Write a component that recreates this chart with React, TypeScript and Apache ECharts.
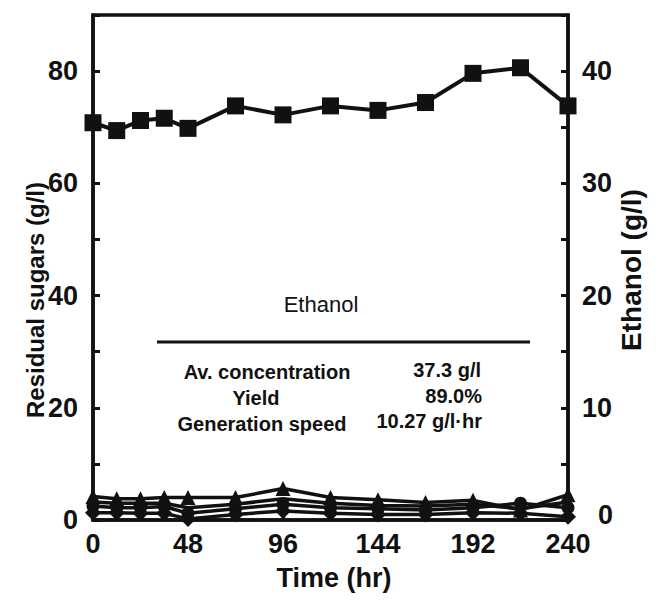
import React, { useEffect, useRef } from "react";
import * as echarts from "echarts";

const hours = [0, 12, 24, 36, 48, 72, 96, 120, 144, 168, 192, 216, 240];
const ethanol = [35.4, 34.7, 35.6, 35.8, 34.9, 36.9, 36.1, 36.9, 36.5, 37.2, 39.8, 40.3, 36.9];
const sugarTriangle = [4.2, 3.8, 3.8, 4.0, 4.0, 4.0, 5.6, 4.0, 3.6, 3.1, 3.5, 1.8, 4.5];
const sugarLineB = [3.2, 3.0, 3.0, 3.0, 2.2, 2.8, 3.8, 3.0, 2.6, 2.5, 2.8, 2.0, 3.2];
const sugarCircle = [2.5, 2.2, 2.2, 2.4, 1.2, 2.0, 2.8, 2.2, 2.0, 1.8, 2.2, 3.0, 2.2];
const sugarDiamond = [1.3, 1.3, 1.2, 1.2, 0.2, 1.0, 1.6, 1.2, 1.0, 1.0, 1.3, 1.2, 0.6];
const xTicks = [0, 48, 96, 144, 192, 240];

const FONT = "'Liberation Sans', Arial, sans-serif";

export default function App() {
  const ref = useRef<HTMLDivElement>(null);
  useEffect(() => {
    if (!ref.current) return;
    const chart = echarts.init(ref.current, null, { renderer: "svg" });
    const pair = (ys: number[]) => hours.map((h, i) => [h, ys[i]]);
    const axisText = { color: "#111", fontSize: 27, fontWeight: "bold" as const, fontFamily: FONT };
    const lineStyle = { color: "#111", width: 3.5 };
    chart.setOption({
      animation: false,
      grid: { left: 93, right: 91, top: 15, bottom: 83, show: true, borderColor: "#111", borderWidth: 3.5, backgroundColor: "transparent" },
      xAxis: {
        type: "value", min: 0, max: 240, interval: 48,
        axisLine: { lineStyle: { color: "#111", width: 3.5 } },
        axisTick: { inside: true, length: 6, lineStyle: { color: "#111", width: 3 } },
        axisLabel: { ...axisText, margin: 10, formatter: (v: number) => (xTicks.includes(v) ? String(v) : "") },
        splitLine: { show: false },
      },
      yAxis: [
        {
          type: "value", min: 0, max: 90, interval: 20, position: "left",
          axisLine: { show: true, lineStyle: { color: "#111", width: 3.5 } },
          axisTick: { inside: true, length: 7, lineStyle: { color: "#111", width: 3 } },
          minorTick: { show: true, splitNumber: 2, length: 7, lineStyle: { color: "#111", width: 3 } },
          axisLabel: { ...axisText, margin: 15, showMaxLabel: false },
          splitLine: { show: false },
        },
        {
          type: "value", min: 0, max: 45, interval: 10, position: "right",
          axisLine: { show: true, lineStyle: { color: "#111", width: 3.5 } },
          axisTick: { inside: true, length: 7, lineStyle: { color: "#111", width: 3 } },
          minorTick: { show: true, splitNumber: 2, length: 7, lineStyle: { color: "#111", width: 3 } },
          axisLabel: {
            ...axisText, margin: 14, showMaxLabel: false,
            formatter: (v: number) => (v === 0 ? "{z|0}" : String(v)),
            rich: { z: { ...axisText, padding: [0, 0, 10, 16] } },
          },
          splitLine: { show: false },
        },
      ],
      series: [
        { type: "line", yAxisIndex: 1, data: pair(ethanol), symbol: "rect", symbolSize: 17, itemStyle: { color: "#111" }, lineStyle: { color: "#111", width: 4 } },
        { type: "line", yAxisIndex: 0, data: pair(sugarTriangle), symbol: "triangle", symbolSize: 15, itemStyle: { color: "#111" }, lineStyle },
        { type: "line", yAxisIndex: 0, data: pair(sugarLineB), symbol: "none", itemStyle: { color: "#111" }, lineStyle },
        { type: "line", yAxisIndex: 0, data: pair(sugarCircle), symbol: "circle", symbolSize: 13, itemStyle: { color: "#111" }, lineStyle },
        { type: "line", yAxisIndex: 0, data: pair(sugarDiamond), symbol: "diamond", symbolSize: 16, itemStyle: { color: "#111" }, lineStyle },
      ],
      graphic: [
        { type: "text", x: 35, y: 300, rotation: Math.PI / 2, style: { text: "Residual sugars (g/l)", fill: "#111", font: `bold 24px ${FONT}`, textAlign: "center", textVerticalAlign: "middle" } },
        { type: "text", x: 631, y: 270, rotation: Math.PI / 2, style: { text: "Ethanol (g/l)", fill: "#111", font: `bold 28px ${FONT}`, textAlign: "center", textVerticalAlign: "middle" } },
        { type: "text", x: 334, y: 578, style: { text: "Time (hr)", fill: "#111", font: `bold 27px ${FONT}`, textAlign: "center", textVerticalAlign: "middle" } },
        { type: "text", x: 321, y: 304, style: { text: "Ethanol", fill: "#111", font: `22px ${FONT}`, textAlign: "center", textVerticalAlign: "middle" } },
        { type: "line", shape: { x1: 157, y1: 342, x2: 530, y2: 342 }, style: { stroke: "#111", lineWidth: 3 } },
        { type: "text", x: 267, y: 372, style: { text: "Av. concentration", fill: "#111", font: `bold 20px ${FONT}`, textAlign: "center", textVerticalAlign: "middle" } },
        { type: "text", x: 256, y: 398, style: { text: "Yield", fill: "#111", font: `bold 20px ${FONT}`, textAlign: "center", textVerticalAlign: "middle" } },
        { type: "text", x: 262, y: 424, style: { text: "Generation speed", fill: "#111", font: `bold 20px ${FONT}`, textAlign: "center", textVerticalAlign: "middle" } },
        { type: "text", x: 481, y: 370, style: { text: "37.3 g/l", fill: "#111", font: `bold 20px ${FONT}`, textAlign: "right", textVerticalAlign: "middle" } },
        { type: "text", x: 482, y: 396, style: { text: "89.0%", fill: "#111", font: `bold 20px ${FONT}`, textAlign: "right", textVerticalAlign: "middle" } },
        { type: "text", x: 482, y: 421, style: { text: "10.27 g/l·hr", fill: "#111", font: `bold 20px ${FONT}`, textAlign: "right", textVerticalAlign: "middle" } },
      ],
    });
    return () => chart.dispose();
  }, []);
  return <div ref={ref} style={{ width: 659, height: 603, position: "absolute", left: 0, top: 0 }} />;
}
